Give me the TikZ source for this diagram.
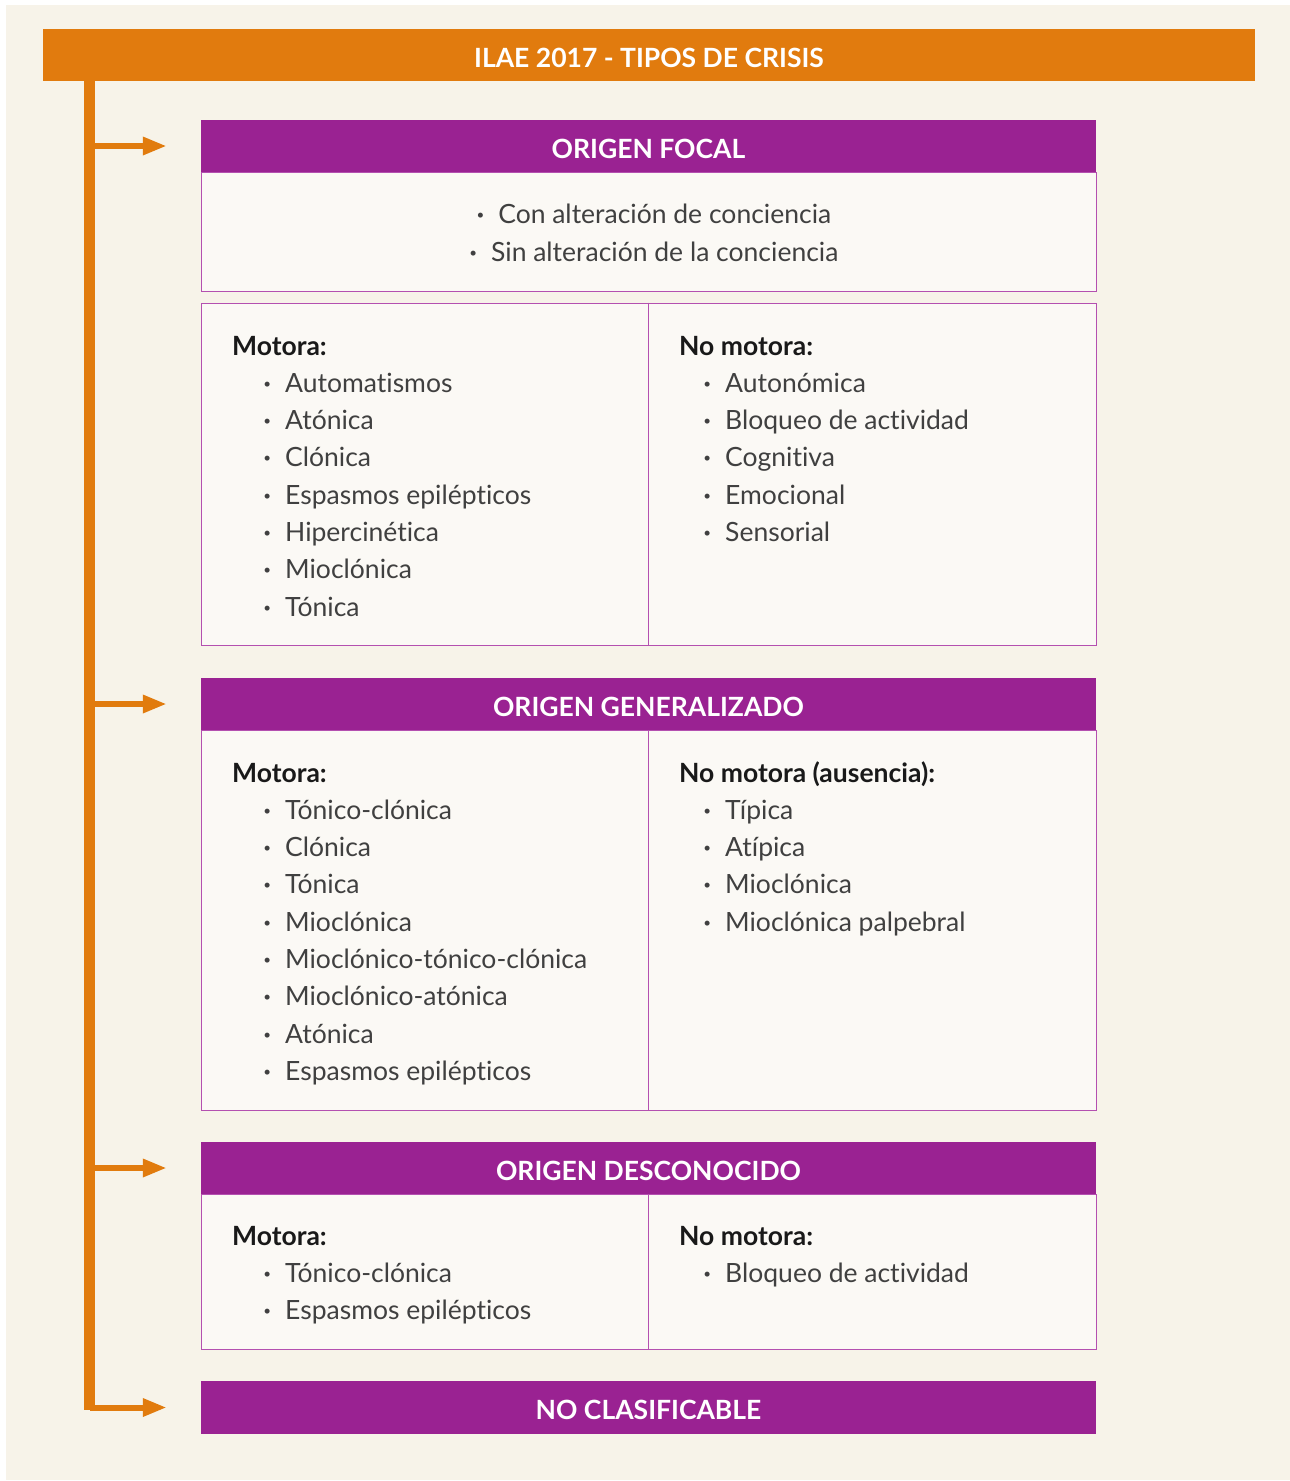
\documentclass[tikz,border=0pt]{standalone}
\usepackage{fontspec}
\setmainfont{Lato}[Ligatures=NoCommon]
\usetikzlibrary{arrows.meta}
\definecolor{ilaeorange}{HTML}{E17B0E}
\definecolor{ilaepurple}{HTML}{9A2292}
\definecolor{cream}{HTML}{F7F3E9}
\definecolor{boxfill}{HTML}{FBF9F5}
\definecolor{boxline}{HTML}{B450B0}
\definecolor{txt}{HTML}{404040}
\newcommand{\itm}[1]{\makebox[23.5pt][l]{\hspace{2pt}\bfseries·}#1}
\newcommand{\bigfont}{\fontsize{26.5}{30}\selectfont}

\begin{document}
\begin{tikzpicture}[x=1pt,y=-1pt,
  title/.style={fill=ilaeorange,text=white,font=\bfseries\bigfont,minimum width=1212pt,minimum height=52pt,inner sep=0pt,text height=24pt,text depth=0pt},
  head/.style={fill=ilaepurple,text=white,font=\bfseries\bigfont,minimum width=895pt,minimum height=52pt,inner sep=0pt,text height=24pt,text depth=0pt},
  panel/.style={draw=boxline,fill=boxfill,line width=1pt,minimum width=895pt,inner sep=0pt},
  lbl/.style={anchor=base west,font=\bfseries\bigfont,text=black!90,inner sep=0pt},
  item/.style={anchor=base west,font=\bigfont,text=txt,inner sep=0pt},
  trunk/.style={draw=ilaeorange,line width=11pt},
  arr/.style={draw=ilaeorange,line width=6pt,-{Triangle[length=24pt,width=17pt]}}]
  \useasboundingbox (0,0) rectangle (1290,1481);
  \fill[cream] (6,5) rectangle (1290,1480);

  \node[title] (title) at (649,55) {ILAE 2017 - TIPOS DE CRISIS};

  % panels
  \node[panel,minimum height=119pt] (focalA) at (648.5,231.5) {};
  \node[panel,minimum height=342pt] (focalB) at (648.5,474) {};
  \node[panel,minimum height=380pt] (gen) at (648.5,920) {};
  \node[panel,minimum height=155pt] (desc) at (648.5,1271.5) {};
  \foreach \p in {focalB,gen,desc}
    \draw[boxline,line width=1pt] (\p.north) -- (\p.south);

  \node[head] (focal) at (648.5,146) {ORIGEN FOCAL};
  \node[head] (general) at (648.5,704) {ORIGEN GENERALIZADO};
  \node[head] (unknown) at (648.5,1168) {ORIGEN DESCONOCIDO};
  \node[head,minimum height=53pt] (noclas) at (648.5,1407.5) {NO CLASIFICABLE};

  % trunk and arrows
  \coordinate (trunkbot) at (89.5,1410);
  \draw[trunk] (title.south -| trunkbot) -- (trunkbot);
  \foreach \h in {focal,general,unknown,noclas}
    \draw[arr] (trunkbot |- \h.west) -- ([xshift=-34pt]\h.west);

  % focal
  \node[item,anchor=base] (aw1) at (653,223) {\itm{Con alteración de conciencia}};
  \node[item,anchor=base] (aw2) at (653,261) {\itm{Sin alteración de la conciencia}};
  \node[lbl] (fmot) at (232,355) {Motora:};
  \foreach \t [count=\i from 0] in {Automatismos,Atónica,Clónica,Espasmos epilépticos,Hipercinética,Mioclónica,Tónica}
    \node[item] (fm\i) at (261.5,392.3+37.3*\i) {\itm{\t}};
  \node[lbl] (fnon) at (679,355) {No motora:};
  \foreach \t [count=\i from 0] in {Autonómica,Bloqueo de actividad,Cognitiva,Emocional,Sensorial}
    \node[item] (fn\i) at (701.5,392.3+37.3*\i) {\itm{\t}};

  % generalized
  \node[lbl] (gmot) at (232,782) {Motora:};
  \foreach \t [count=\i from 0] in {Tónico-clónica,Clónica,Tónica,Mioclónica,Mioclónico-tónico-clónica,Mioclónico-atónica,Atónica,Espasmos epilépticos}
    \node[item] (gm\i) at (261.5,819.3+37.3*\i) {\itm{\t}};
  \node[lbl] (gnon) at (679,782) {No motora (ausencia):};
  \foreach \t [count=\i from 0] in {Típica,Atípica,Mioclónica,Mioclónica palpebral}
    \node[item] (gn\i) at (701.5,819.3+37.3*\i) {\itm{\t}};

  % unknown
  \node[lbl] (umot) at (232,1245) {Motora:};
  \foreach \t [count=\i from 0] in {Tónico-clónica,Espasmos epilépticos}
    \node[item] (um\i) at (261.5,1282.3+37.3*\i) {\itm{\t}};
  \node[lbl] (unon) at (679,1245) {No motora:};
  \node[item] (un0) at (701.5,1282.3) {\itm{Bloqueo de actividad}};
\end{tikzpicture}
\end{document}
